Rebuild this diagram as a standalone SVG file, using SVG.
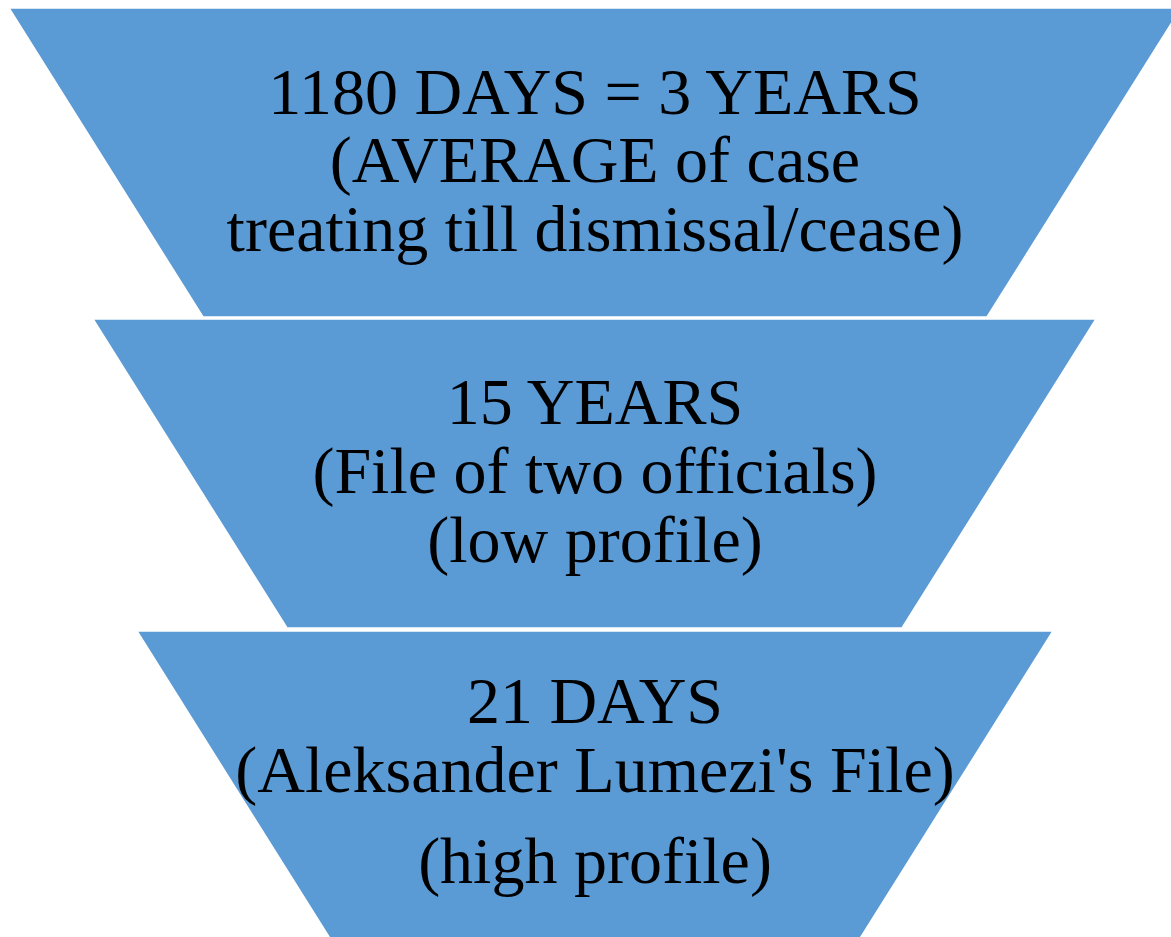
<svg xmlns="http://www.w3.org/2000/svg" width="1171" height="937" viewBox="0 0 1171 937">
  <style>
    .trap { fill: #5B9BD5; stroke: #ffffff; stroke-width: 1.5; }
    .lbl { font-family: "Liberation Serif", "Times New Roman", serif; font-size: 66px; fill: #000000; text-anchor: middle; }
  </style>
  <rect x="0" y="0" width="1171" height="937" fill="#ffffff"/>
  <g id="level-1">
    <polygon class="trap" points="9,8 1181,8 987,317 203,317"/>
    <text class="lbl" x="595" y="114">1180 DAYS = 3 YEARS</text>
    <text class="lbl" x="595" y="182">(AVERAGE of case</text>
    <text class="lbl" x="595" y="251">treating till dismissal/cease)</text>
  </g>
  <g id="level-2">
    <polygon class="trap" points="93,319 1096,319 902,628 287,628"/>
    <text class="lbl" x="595" y="424">15 YEARS</text>
    <text class="lbl" x="595" y="493">(File of two officials)</text>
    <text class="lbl" x="595" y="562">(low profile)</text>
  </g>
  <g id="level-3">
    <polygon class="trap" points="137,631 1053,631 859,940 331,940"/>
    <text class="lbl" x="595" y="723">21 DAYS</text>
    <text class="lbl" x="595" y="792">(Aleksander Lumezi's File)</text>
    <text class="lbl" x="595" y="883">(high profile)</text>
  </g>
  <g id="connectors"></g>
</svg>
